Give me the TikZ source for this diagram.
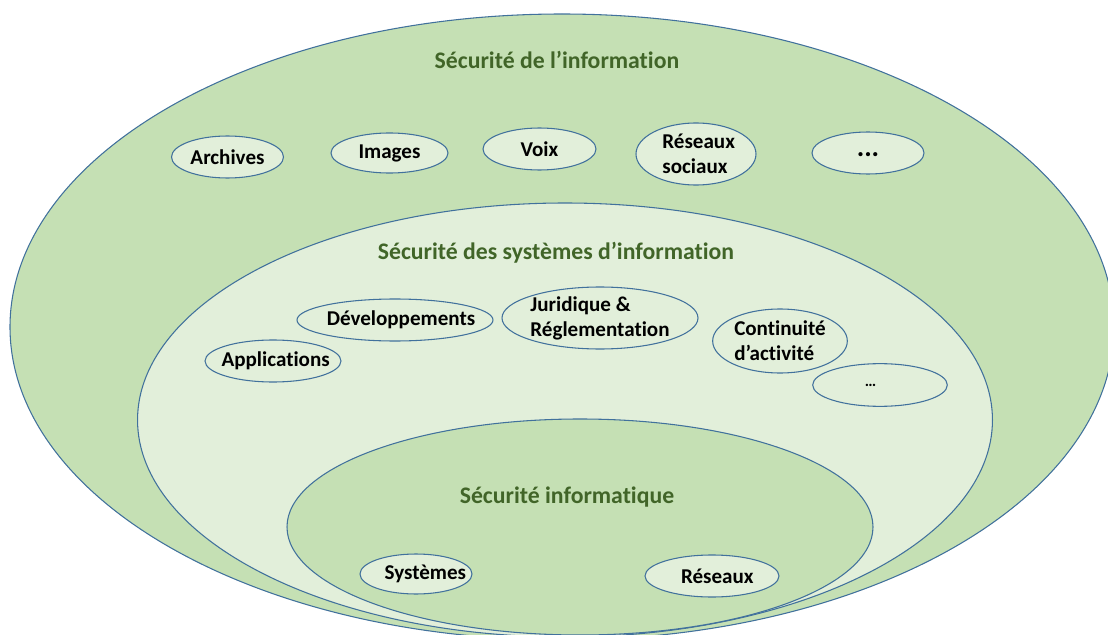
\documentclass[tikz,border=0pt]{standalone}
\usepackage{fontspec}
\setmainfont[Ligatures=NoCommon]{Carlito}
\usetikzlibrary{shapes.geometric}
\definecolor{zonegreen}{HTML}{C5E0B4}
\definecolor{palegreen}{HTML}{E2EFDA}
\definecolor{edgeblue}{HTML}{41719C}
\definecolor{titlegreen}{HTML}{416528}

% an ellipse of given size with its text laid over it
\newcommand\bubble[7][]{%
  \node[bubble, minimum width=#5pt, minimum height=#6pt] (#2) at (#3,#4) {};
  \node[bubbletext, #1] (#2-text) at (#2) {#7};}

\begin{document}
\begin{tikzpicture}[x=0.75pt, y=-0.75pt,
  zone/.style={draw=edgeblue, line width=0.8pt},
  zonetitle/.style={text=titlegreen, font=\fontsize{17.8}{21}\selectfont\bfseries, inner sep=0pt},
  bubble/.style={ellipse, draw=edgeblue, line width=0.8pt, fill=palegreen, inner sep=0pt},
  bubbletext/.style={font=\fontsize{15.8}{18.8}\selectfont\bfseries, align=left, inner sep=0pt}]
\useasboundingbox (0,0) rectangle (1108,635);
\begin{scope}
  \clip (0,0) rectangle (1108,635);
  % nested security domains
  \draw[zone, fill=zonegreen] (562,327) ellipse [x radius=414pt, y radius=234.75pt];
  \draw[zone, fill=palegreen] (565,420) ellipse [x radius=320.6pt, y radius=162.75pt];
  \draw[zone, fill=zonegreen] (580,527) ellipse [x radius=219.75pt, y radius=81pt];
\end{scope}

% domain titles
\node[zonetitle] (infosec) at (557,60) {Sécurité de l’information};
\node[zonetitle] (issec) at (556,253) {Sécurité des systèmes d’information};
\node[zonetitle] (itsec) at (567,497) {Sécurité informatique};

% information security
\bubble{archives}{227.5}{157}{84}{31.5}{Archives}
\bubble{images}{389.5}{153}{87.75}{30}{Images}
\bubble{voix}{539.5}{149}{84.75}{31.5}{Voix}
\bubble[xshift=2pt]{sociaux}{696}{154}{90}{46.5}{Réseaux\\sociaux}
\bubble[font=\fontsize{21}{22}\selectfont\bfseries, yshift=-1pt]{autres1}{868}{153}{84}{31.5}{...}

% information systems security
\bubble[xshift=4.5pt]{dev}{395}{320}{147}{31.5}{Développements}
\bubble[xshift=2pt]{applis}{273}{361}{102}{31.5}{Applications}
\bubble{juridique}{600}{318}{147}{46.5}{Juridique \&\\Réglementation}
\bubble{continuite}{780}{341}{101}{48}{Continuité\\d’activité}
\bubble[xshift=-7pt, font=\fontsize{12}{14}\selectfont\bfseries]{autres2}{880}{385}{101}{32}{…}

% IT security
\bubble[xshift=7pt]{systemes}{416}{574}{84}{30}{Systèmes}
\bubble[xshift=4pt]{reseaux}{712}{576}{100.5}{31.5}{Réseaux}
\end{tikzpicture}
\end{document}
